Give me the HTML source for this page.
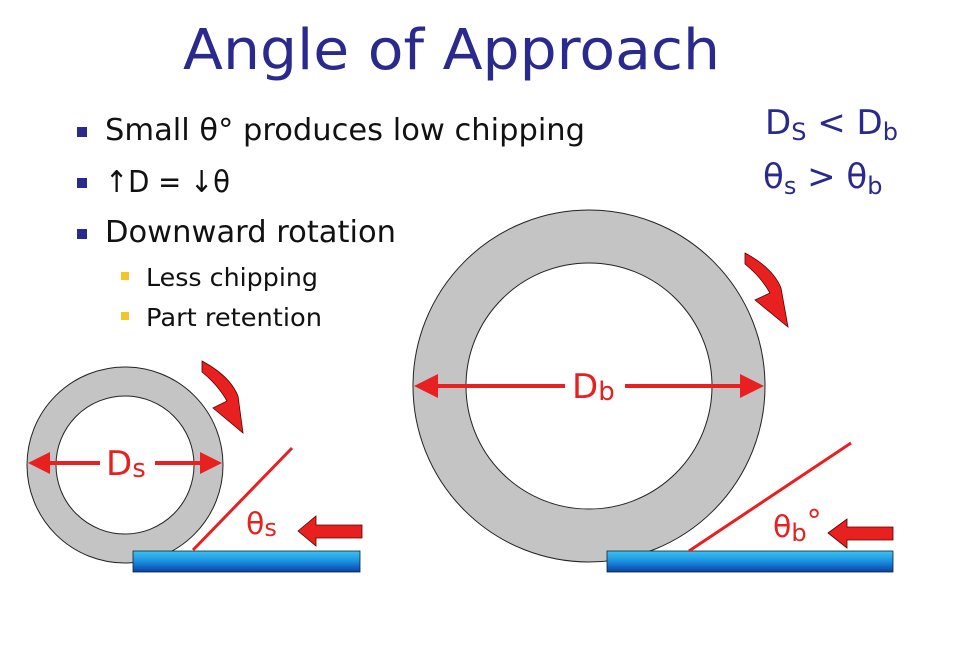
<!DOCTYPE html>
<html><head><meta charset="utf-8"><style>
html,body{margin:0;padding:0;background:#fff;}
svg{display:block;}
text{font-family:"DejaVu Sans","Liberation Sans",sans-serif;}
</style></head><body>
<svg width="975" height="650" viewBox="0 0 975 650" xmlns="http://www.w3.org/2000/svg">
<defs>
<linearGradient id="bl" x1="0" y1="0" x2="0" y2="1">
<stop offset="0" stop-color="#3cc4f0"/><stop offset="0.5" stop-color="#1a8fe0"/><stop offset="1" stop-color="#0a3fa8"/>
</linearGradient>
</defs>
<text x="183" y="69" font-size="56" fill="#2a2a8e" textLength="537" lengthAdjust="spacingAndGlyphs">Angle of Approach</text>

<rect x="77" y="127" width="10" height="10" fill="#2a2a8e"/>
<rect x="77" y="178" width="10" height="10" fill="#2a2a8e"/>
<rect x="77" y="229" width="10" height="10" fill="#2a2a8e"/>
<rect x="121" y="272" width="8" height="8" fill="#f5c428"/>
<rect x="121" y="312" width="8" height="8" fill="#f5c428"/>
<g fill="#111">
<text x="105" y="140" font-size="30" textLength="480" lengthAdjust="spacingAndGlyphs">Small θ° produces low chipping</text>
<text x="105" y="192" font-size="30" textLength="125" lengthAdjust="spacingAndGlyphs">↑D = ↓θ</text>
<text x="105" y="242" font-size="30" textLength="291" lengthAdjust="spacingAndGlyphs">Downward rotation</text>
<text x="146" y="286" font-size="25" textLength="172" lengthAdjust="spacingAndGlyphs">Less chipping</text>
<text x="146" y="326" font-size="25" textLength="176" lengthAdjust="spacingAndGlyphs">Part retention</text>
</g>
<g fill="#2a2a8e">
<text x="765" y="134" font-size="34">D<tspan font-size="24" dy="6">S</tspan><tspan dy="-6"> &lt; D</tspan><tspan font-size="24" dy="6">b</tspan></text>
<text x="763" y="188" font-size="34">θ<tspan font-size="24" dy="6">s</tspan><tspan dy="-6"> &gt; θ</tspan><tspan font-size="24" dy="6">b</tspan></text>
</g>

<!-- small wheel -->
<path fill-rule="evenodd" fill="#c4c4c4" stroke="#222" stroke-width="1" d="M27,465a98,98 0 1,0 196,0a98,98 0 1,0 -196,0Z M56,465a69,69 0 1,0 138,0a69,69 0 1,0 -138,0Z"/>
<rect x="133" y="551" width="227" height="21" fill="url(#bl)" stroke="#123" stroke-width="0.8"/>
<line x1="193" y1="550" x2="292" y2="448" stroke="#e82020" stroke-width="3"/>
<g fill="#e82020">
<line x1="40" y1="463" x2="100" y2="463" stroke="#e82020" stroke-width="4"/>
<line x1="155" y1="463" x2="208" y2="463" stroke="#e82020" stroke-width="4"/>
<polygon points="28,463 50,452 50,474"/>
<polygon points="222,463 200,452 200,474"/>
<text x="106" y="475" font-size="34">D<tspan font-size="26" dy="2">s</tspan></text>
<text x="246" y="534" font-size="30">θ<tspan font-size="24" dy="2">s</tspan></text>
<polygon points="298,531 316,516 316,525 362,525 362,538 316,538 316,546" stroke="#500" stroke-width="0.8"/>
<path d="M202,361 Q230,376 238,396 L243,433 L213,408 L227,401 Q218,385 202,372 Z" stroke="#500" stroke-width="0.8"/>
</g>

<!-- big wheel -->
<path fill-rule="evenodd" fill="#c4c4c4" stroke="#222" stroke-width="1" d="M413,386a176,176 0 1,0 352,0a176,176 0 1,0 -352,0Z M466,386a123,123 0 1,0 246,0a123,123 0 1,0 -246,0Z"/>
<rect x="607" y="551" width="286" height="21" fill="url(#bl)" stroke="#123" stroke-width="0.8"/>
<line x1="689" y1="551" x2="851" y2="443" stroke="#e82020" stroke-width="3"/>
<g fill="#e82020">
<line x1="430" y1="386" x2="565" y2="386" stroke="#e82020" stroke-width="4"/>
<line x1="625" y1="386" x2="745" y2="386" stroke="#e82020" stroke-width="4"/>
<polygon points="414,386 438,374 438,398"/>
<polygon points="764,386 740,374 740,398"/>
<text x="572" y="398" font-size="34">D<tspan font-size="26" dy="2">b</tspan></text>
<text x="773" y="537" font-size="30">θ<tspan font-size="24" dy="4">b</tspan><tspan dy="-10">°</tspan></text>
<polygon points="828,533 847,519 847,527 893,527 893,540 847,540 847,548" stroke="#500" stroke-width="0.8"/>
<path d="M745,253 Q773,268 781,288 L788,327 L755,300 L770,293 Q761,277 745,264 Z" stroke="#500" stroke-width="0.8"/>
</g>
</svg>
</body></html>
